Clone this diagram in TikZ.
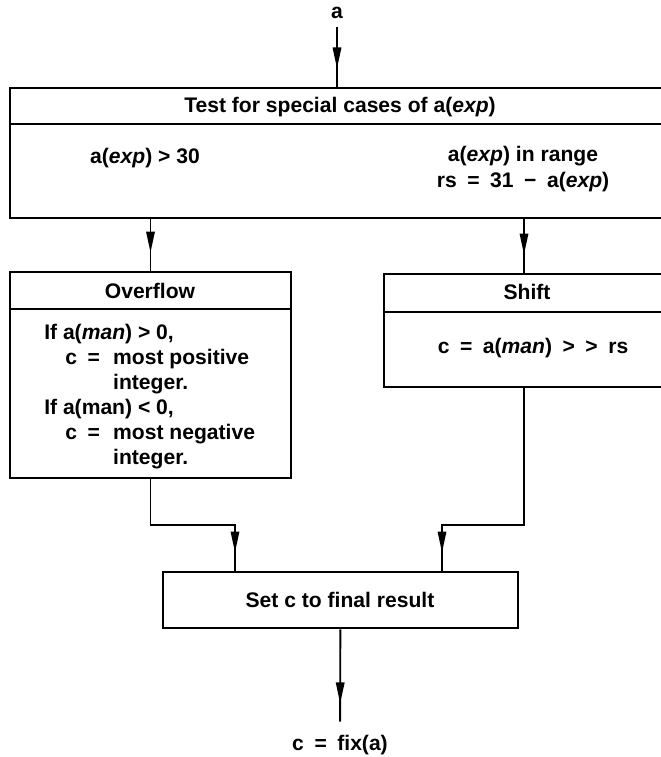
\documentclass[tikz,border=0pt]{standalone}
\usepackage{fontspec}
\setmainfont{Liberation Sans}
\usepackage{tikz}
\usetikzlibrary{arrows.meta, positioning, fit, decorations.markings}

\tikzset{
	box/.style={draw, line width=2pt, inner sep=0pt},
	trenn/.style={line width=2pt},
	flow/.style={line width=1.3pt, postaction={decorate},
		decoration={markings, mark=at position -0.45cm with {\arrow{Triangle[length=15pt, width=6pt]}}}},
	txt/.style={font=\bfseries\fontsize{15}{18}\selectfont, inner sep=0pt},
}

\begin{document}
		\begin{tikzpicture}[x=0.025cm, y=-0.025cm]
			\useasboundingbox (0,0) rectangle (661,757);
			\clip (0,0) rectangle (661,757);
			
			% Kaesten
			\node[box, fit={(10,88) (664,218)}] (test) {};
			\node[box, fit={(10,272) (291,478)}] (ovf) {};
			\node[box, fit={(384,274) (664,387)}] (shift) {};
			\node[box, fit={(163,572) (518,628)}] (set) {};
			
			% Trennlinien
			\draw[trenn] (test.west |- 0,124) -- (test.east |- 0,124);
			\draw[trenn] (ovf.west |- 0,309) -- (ovf.east |- 0,309);
			\draw[trenn] (shift.west |- 0,312) -- (shift.east |- 0,312);
			
			% Texte
			\node[txt, inner sep=6pt] (a) at (337,13) {a};
			\node[txt] (ttl) at (340,107) {Test for special cases of a(\textit{exp})};
			\node[txt] (gt) at (145,158) {a(\textit{exp}) > 30};
			\node[txt, align=center] (rng) at (523,169) {a(\textit{exp}) in range\\rs\enspace=\enspace31\enspace−\enspace a(\textit{exp})};
			\node[txt] (ovfh) at (150,291) {Overflow};
			\node[txt] (shh) at (527,292) {Shift};
			\node[txt, align=left, anchor=north west, font=\bfseries\fontsize{15}{17.7}\selectfont] (ovft) at (44,324) {%
				If a(\textit{man}) > 0,\\
				\hspace*{15pt}\makebox[34pt][l]{c\enspace=}most positive\\
				\hspace*{49pt}integer.\\
				If a(man) < 0,\\
				\hspace*{15pt}\makebox[34pt][l]{c\enspace=}most negative\\
				\hspace*{49pt}integer.};
			\node[txt] (sht) at (533,348) {c\enspace=\enspace a(\textit{man})\enspace>\enspace>\enspace rs};
			\node[txt] (sett) at (340,600) {Set c to final result};
			\node[txt, inner sep=9.5pt] (out) at (340,745) {c\enspace=\enspace fix(a)};
			
			% Knickpunkte
			\coordinate (lk) at (235,525);
			\coordinate (rk) at (442,525);
			
			% Pfeile
			\draw[flow] (a) -- (a |- test.north);
			\draw[flow] (ovf.north |- test.south) -- (ovf);
			\draw[flow] (shift.north |- test.south) -- (shift);
			\draw[flow] (ovf) -- (ovf |- lk) -- (lk) -- (lk |- set.north);
			\draw[flow] (shift) -- (shift |- rk) -- (rk) -- (rk |- set.north);
			\draw[flow] (set) -- (out);
		\end{tikzpicture}
\end{document}
